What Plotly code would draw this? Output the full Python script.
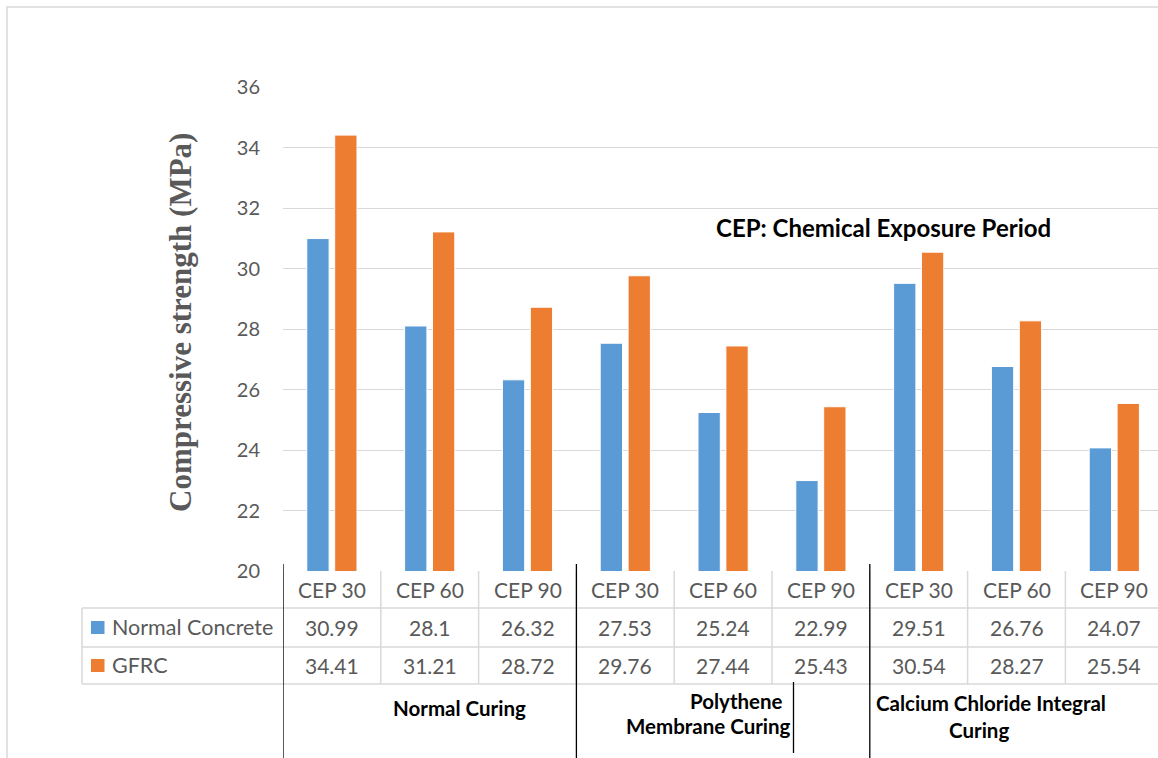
import plotly.graph_objects as go

# ---------------- data ----------------
periods = ["CEP 30", "CEP 60", "CEP 90", "CEP 30", "CEP 60", "CEP 90", "CEP 30", "CEP 60", "CEP 90"]
normal_concrete = [30.99, 28.1, 26.32, 27.53, 25.24, 22.99, 29.51, 26.76, 24.07]
gfrc = [34.41, 31.21, 28.72, 29.76, 27.44, 25.43, 30.54, 28.27, 25.54]
series_names = ["Normal Concrete", "GFRC"]
y_ticks = [20, 22, 24, 26, 28, 30, 32, 34, 36]

BLUE = "#5B9BD5"
ORANGE = "#ED7D31"
GRID = "#D9D9D9"
TXT = "#595959"
FONT = "Lato"

W, H = 1158, 758
L, R, T, B = 283, 0, 87, 187
PW = W - L - R
PH = H - T - B
COLW = 97.8
x_idx = list(range(len(periods)))


def px(xp):
    return (xp - L) / PW


def py(yp):
    return (H - B - yp) / PH


fig = go.Figure()
fig.add_bar(x=x_idx, y=normal_concrete, name=series_names[0], marker=dict(color=BLUE, line=dict(color="white", width=1)))
fig.add_bar(x=x_idx, y=gfrc, name=series_names[1], marker=dict(color=ORANGE, line=dict(color="white", width=1)))

shapes = []
ann = []

# outer chart frame
shapes.append(dict(type="rect", xref="paper", yref="paper", x0=px(7), x1=px(1170), y0=py(7), y1=py(770),
                   line=dict(color=GRID, width=1.5), layer="below"))

# table horizontal lines
for yy in [608, 647, 684]:
    shapes.append(dict(type="line", xref="paper", yref="paper", x0=px(82), x1=px(1170), y0=py(yy), y1=py(yy),
                       line=dict(color=GRID, width=1.5)))
shapes.append(dict(type="line", xref="paper", yref="paper", x0=px(82), x1=px(82), y0=py(608), y1=py(684),
                   line=dict(color=GRID, width=1.5)))
# column dividers
for k in range(len(periods) + 1):
    shapes.append(dict(type="line", xref="x", yref="paper", x0=k - 0.5, x1=k - 0.5, y0=py(571), y1=py(684),
                       line=dict(color=GRID, width=1.5)))
# black group separators
for k in [0, 3, 6]:
    shapes.append(dict(type="line", xref="x", yref="paper", x0=k - 0.5, x1=k - 0.5, y0=py(564), y1=py(762),
                       line=dict(color="black", width=1.3)))
shapes.append(dict(type="line", xref="paper", yref="paper", x0=px(793.5), x1=px(793.5), y0=py(682), y1=py(753),
                   line=dict(color="black", width=1.3)))

# legend keys inside the table
for col, yc in [(BLUE, 627.5), (ORANGE, 665.5)]:
    shapes.append(dict(type="rect", xref="paper", yref="paper", x0=px(91), x1=px(104.5), y0=py(yc - 6.5), y1=py(yc + 6.5),
                       line=dict(width=0), fillcolor=col))
for name, yc in zip(series_names, [627, 665]):
    ann.append(dict(xref="paper", yref="paper", x=px(110), y=py(yc), text=name, showarrow=False,
                    xanchor="left", yanchor="middle", font=dict(family=FONT, size=21.5, color=TXT)))

# table contents
for i in x_idx:
    ann.append(dict(xref="x", yref="paper", x=i, y=py(589), text=periods[i], showarrow=False,
                    yanchor="middle", font=dict(family=FONT, size=21, color=TXT)))
    ann.append(dict(xref="x", yref="paper", x=i, y=py(627), text=f"{normal_concrete[i]:g}", showarrow=False,
                    yanchor="middle", font=dict(family=FONT, size=21, color=TXT)))
    ann.append(dict(xref="x", yref="paper", x=i, y=py(665), text=f"{gfrc[i]:g}", showarrow=False,
                    yanchor="middle", font=dict(family=FONT, size=21, color=TXT)))

# group labels
bold = dict(family=FONT, size=20.5, color="black")
for text, xc, yc in [("<b>Normal Curing</b>", 459, 708),
                     ("<b>Polythene</b>", 736, 701),
                     ("<b>Membrane Curing</b>", 708, 726),
                     ("<b>Calcium Chloride Integral</b>", 991, 703),
                     ("<b>Curing</b>", 979, 730)]:
    ann.append(dict(xref="paper", yref="paper", x=px(xc), y=py(yc), text=text, showarrow=False,
                    xanchor="center", yanchor="middle", font=bold))

ann.append(dict(xref="paper", yref="paper", x=px(883), y=py(227), text="<b>CEP: Chemical Exposure Period</b>",
                showarrow=False, xanchor="center", yanchor="middle", font=dict(family=FONT, size=24, color="black")))

ann.append(dict(xref="paper", yref="paper", x=px(180), y=py(323), text="<b>Compressive strength (MPa)</b>",
                showarrow=False, textangle=-90, xanchor="center", yanchor="middle",
                font=dict(family="Liberation Serif", size=31, color=TXT)))

fig.update_layout(
    width=W, height=H,
    margin=dict(l=L, r=R, t=T, b=B, pad=0),
    paper_bgcolor="white", plot_bgcolor="white",
    showlegend=False,
    barmode="group", bargap=0.43, bargroupgap=0.2,
    shapes=shapes, annotations=ann,
    xaxis=dict(range=[-0.5, -0.5 + PW / COLW], showticklabels=False, showgrid=False, zeroline=False,
               showline=False, ticks="", fixedrange=True),
    yaxis=dict(range=[20, 36], tickvals=y_ticks, showgrid=True, gridcolor=GRID, gridwidth=1.3,
               zeroline=False, showline=False, ticks="", ticklabelstandoff=22,
               tickfont=dict(family=FONT, size=20, color=TXT)),
)

fig.write_html("out.html", config={"displayModeBar": False},
               post_script="document.body.style.margin='0';document.body.style.overflow='hidden';")
